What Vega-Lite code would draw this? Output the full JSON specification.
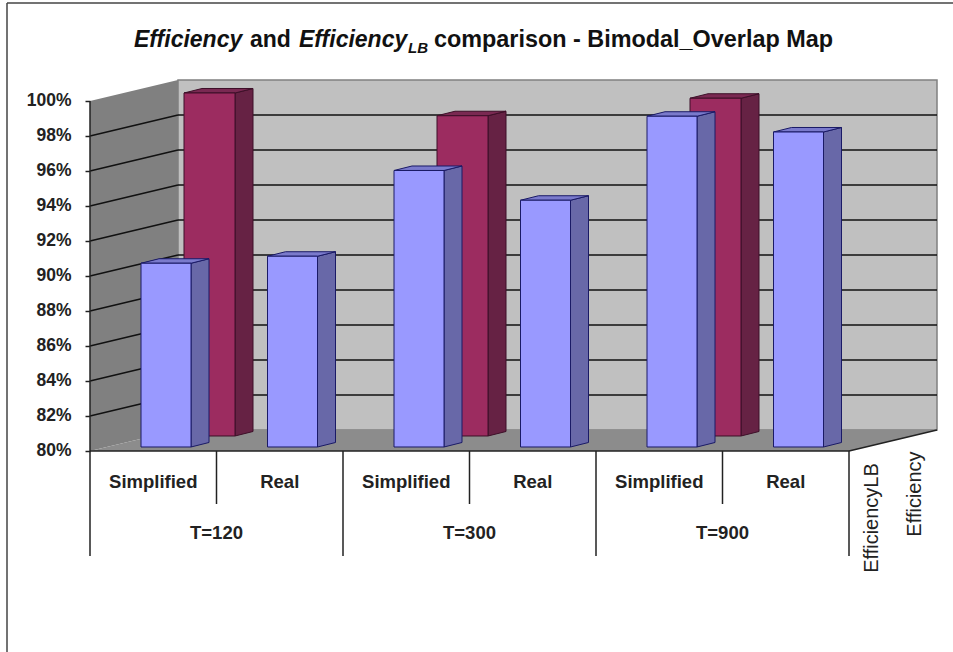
{"$schema":"https://vega.github.io/schema/vega-lite/v6.json","width":953,"height":652,"padding":0,"autosize":{"type":"none"},"background":"white","config":{"view":{"stroke":null},"text":{"font":"Liberation Sans"}},
"datasets":{
"bars":[
{"T":"T=120","type":"Simplified","series":"Efficiency","value":90.5},
{"T":"T=120","type":"Real","series":"Efficiency","value":90.9},
{"T":"T=300","type":"Simplified","series":"Efficiency","value":95.8},
{"T":"T=300","type":"Real","series":"Efficiency","value":94.1},
{"T":"T=900","type":"Simplified","series":"Efficiency","value":98.9},
{"T":"T=900","type":"Real","series":"Efficiency","value":98.0},
{"T":"T=120","type":"Simplified","series":"EfficiencyLB","value":99.6},
{"T":"T=300","type":"Simplified","series":"EfficiencyLB","value":98.3},
{"T":"T=900","type":"Simplified","series":"EfficiencyLB","value":99.3}],
"depth":[{"depth":0},{"depth":1}],
"ticks":[{"v":80},{"v":82},{"v":84},{"v":86},{"v":88},{"v":90},{"v":92},{"v":94},{"v":96},{"v":98},{"v":100}],
"splits":[{"b":0},{"b":1},{"b":2},{"b":3},{"b":4},{"b":5},{"b":6}],
"seriesNames":[{"series":"EfficiencyLB","i":0},{"series":"Efficiency","i":1}],
"one":[{"n":1}]},
"layer":[
{"data":{"name":"one"},"transform":[{"calculate":"178","as":"x"},{"calculate":"937","as":"x2"},{"calculate":"101.2","as":"y"},{"calculate":"81.2","as":"y2"}],"mark":{"type":"rect","fill":"#c0c0c0","stroke":"#808080","strokeWidth":1.5},"encoding":{"x":{"field":"x","type":"quantitative","scale":{"domain":[0,953]},"axis":null},"x2":{"field":"x2"},"y":{"field":"y","type":"quantitative","scale":{"domain":[68.514,105.771]},"axis":{"values":[80,82,84,86,88,90,92,94,96,98,100],"labelExpr":"datum.value+'%'","offset":-90,"domain":false,"grid":false,"title":null,"tickSize":5,"tickColor":"#222222","tickWidth":1.5,"labelFont":"Liberation Sans","labelFontSize":17.5,"labelFontWeight":"bold","labelColor":"#222222","labelPadding":14}},"y2":{"field":"y2"}}},
{"data":{"name":"depth"},"transform":[{"calculate":"90+88*datum.depth","as":"x"},{"calculate":"100+1.2*datum.depth","as":"t"},{"calculate":"80+1.2*datum.depth","as":"b"}],"mark":{"type":"area","fill":"#808080"},"encoding":{"x":{"field":"x","type":"quantitative","scale":{"domain":[0,953]},"axis":null},"y":{"field":"t","type":"quantitative","stack":null,"scale":{"domain":[68.514,105.771]}},"y2":{"field":"b"}}},
{"data":{"name":"depth"},"transform":[{"calculate":"90+88*datum.depth","as":"x"},{"calculate":"849+88*datum.depth","as":"x2"},{"calculate":"80+1.2*datum.depth","as":"y"}],"mark":{"type":"area","orient":"horizontal","fill":"#8c8c8c"},"encoding":{"y":{"field":"y","type":"quantitative","scale":{"domain":[68.514,105.771]}},"x":{"field":"x","type":"quantitative","stack":null,"scale":{"domain":[0,953]},"axis":null},"x2":{"field":"x2"}}},
{"data":{"name":"ticks"},"transform":[{"filter":"datum.v>80&&datum.v<100"},{"calculate":"datum.v+1.2","as":"w"},{"calculate":"178","as":"x"},{"calculate":"937","as":"x2"}],"mark":{"type":"rule","color":"#111111","strokeWidth":1.5},"encoding":{"x":{"field":"x","type":"quantitative","scale":{"domain":[0,953]},"axis":null},"x2":{"field":"x2"},"y":{"field":"w","type":"quantitative","scale":{"domain":[68.514,105.771]}}}},
{"data":{"name":"ticks"},"transform":[{"filter":"datum.v>80&&datum.v<100"},{"calculate":"datum.v+1.2","as":"w"},{"calculate":"90","as":"x"},{"calculate":"178","as":"x2"}],"mark":{"type":"rule","color":"#111111","strokeWidth":1.5},"encoding":{"x":{"field":"x","type":"quantitative","scale":{"domain":[0,953]},"axis":null},"x2":{"field":"x2"},"y":{"field":"v","type":"quantitative","scale":{"domain":[68.514,105.771]}},"y2":{"field":"w"}}},

{"data":{"name":"bars"},"transform":[{"filter":"datum.series==='EfficiencyLB'"},{"calculate":"indexof(['T=120','T=300','T=900'],datum.T)*2+(datum.type==='Real'?1:0)","as":"slot"},{"calculate":"235+126.5*datum.slot","as":"xR"},{"calculate":"80+15/17.5","as":"base"},{"calculate":"datum.value+15/17.5","as":"top"},{"calculate":"[0,1]","as":"k"},{"flatten":["k"]},{"calculate":"datum.xR+18*datum.k","as":"x"},{"calculate":"datum.top+datum.k*4.5/17.5","as":"t"},{"calculate":"datum.base+datum.k*4.5/17.5","as":"b"}],"mark":{"type":"area","fill":"#662244","stroke":"#3d0f28","strokeWidth":1},"encoding":{"detail":{"field":"slot","type":"nominal"},"x":{"field":"x","type":"quantitative","scale":{"domain":[0,953]},"axis":null},"y":{"field":"t","type":"quantitative","stack":null,"scale":{"domain":[68.514,105.771]}},"y2":{"field":"b"}}},
{"data":{"name":"bars"},"transform":[{"filter":"datum.series==='EfficiencyLB'"},{"calculate":"indexof(['T=120','T=300','T=900'],datum.T)*2+(datum.type==='Real'?1:0)","as":"slot"},{"calculate":"184+126.5*datum.slot","as":"xL"},{"calculate":"datum.value+15/17.5","as":"top"},{"calculate":"[0,1]","as":"k"},{"flatten":["k"]},{"calculate":"datum.xL+18*datum.k","as":"x"},{"calculate":"datum.x+51","as":"x2"},{"calculate":"datum.top+datum.k*4.5/17.5","as":"y"}],"mark":{"type":"area","orient":"horizontal","fill":"#7a2952","stroke":"#3d0f28","strokeWidth":1},"encoding":{"detail":{"field":"slot","type":"nominal"},"y":{"field":"y","type":"quantitative","scale":{"domain":[68.514,105.771]}},"x":{"field":"x","type":"quantitative","stack":null,"scale":{"domain":[0,953]},"axis":null},"x2":{"field":"x2"}}},
{"data":{"name":"bars"},"transform":[{"filter":"datum.series==='EfficiencyLB'"},{"calculate":"indexof(['T=120','T=300','T=900'],datum.T)*2+(datum.type==='Real'?1:0)","as":"slot"},{"calculate":"184+126.5*datum.slot","as":"xL"},{"calculate":"datum.xL+51","as":"xR"},{"calculate":"80+15/17.5","as":"base"},{"calculate":"datum.value+15/17.5","as":"top"}],"mark":{"type":"rect","fill":"#9c2c60","stroke":"#3d0f28","strokeWidth":1},"encoding":{"x":{"field":"xL","type":"quantitative","scale":{"domain":[0,953]},"axis":null},"x2":{"field":"xR"},"y":{"field":"top","type":"quantitative","scale":{"domain":[68.514,105.771]}},"y2":{"field":"base"}}},

{"data":{"name":"bars"},"transform":[{"filter":"datum.series==='Efficiency'"},{"calculate":"indexof(['T=120','T=300','T=900'],datum.T)*2+(datum.type==='Real'?1:0)","as":"slot"},{"calculate":"191+126.5*datum.slot","as":"xR"},{"calculate":"80+4/17.5","as":"base"},{"calculate":"datum.value+4/17.5","as":"top"},{"calculate":"[0,1]","as":"k"},{"flatten":["k"]},{"calculate":"datum.xR+18*datum.k","as":"x"},{"calculate":"datum.top+datum.k*4.5/17.5","as":"t"},{"calculate":"datum.base+datum.k*4.5/17.5","as":"b"}],"mark":{"type":"area","fill":"#6868a8","stroke":"#1a1a66","strokeWidth":1},"encoding":{"detail":{"field":"slot","type":"nominal"},"x":{"field":"x","type":"quantitative","scale":{"domain":[0,953]},"axis":null},"y":{"field":"t","type":"quantitative","stack":null,"scale":{"domain":[68.514,105.771]}},"y2":{"field":"b"}}},
{"data":{"name":"bars"},"transform":[{"filter":"datum.series==='Efficiency'"},{"calculate":"indexof(['T=120','T=300','T=900'],datum.T)*2+(datum.type==='Real'?1:0)","as":"slot"},{"calculate":"141+126.5*datum.slot","as":"xL"},{"calculate":"datum.value+4/17.5","as":"top"},{"calculate":"[0,1]","as":"k"},{"flatten":["k"]},{"calculate":"datum.xL+18*datum.k","as":"x"},{"calculate":"datum.x+50","as":"x2"},{"calculate":"datum.top+datum.k*4.5/17.5","as":"y"}],"mark":{"type":"area","orient":"horizontal","fill":"#7a7acc","stroke":"#1a1a66","strokeWidth":1},"encoding":{"detail":{"field":"slot","type":"nominal"},"y":{"field":"y","type":"quantitative","scale":{"domain":[68.514,105.771]}},"x":{"field":"x","type":"quantitative","stack":null,"scale":{"domain":[0,953]},"axis":null},"x2":{"field":"x2"}}},
{"data":{"name":"bars"},"transform":[{"filter":"datum.series==='Efficiency'"},{"calculate":"indexof(['T=120','T=300','T=900'],datum.T)*2+(datum.type==='Real'?1:0)","as":"slot"},{"calculate":"141+126.5*datum.slot","as":"xL"},{"calculate":"datum.xL+50","as":"xR"},{"calculate":"80+4/17.5","as":"base"},{"calculate":"datum.value+4/17.5","as":"top"}],"mark":{"type":"rect","fill":"#9999ff","stroke":"#1a1a66","strokeWidth":1},"encoding":{"x":{"field":"xL","type":"quantitative","scale":{"domain":[0,953]},"axis":null},"x2":{"field":"xR"},"y":{"field":"top","type":"quantitative","scale":{"domain":[68.514,105.771]}},"y2":{"field":"base"}}},

{"data":{"name":"one"},"transform":[{"calculate":"90","as":"x"},{"calculate":"80","as":"y"},{"calculate":"100","as":"y2"}],"mark":{"type":"rule","color":"#222222","strokeWidth":1.5},"encoding":{"x":{"field":"x","type":"quantitative","scale":{"domain":[0,953]},"axis":null},"y":{"field":"y","type":"quantitative","scale":{"domain":[68.514,105.771]}},"y2":{"field":"y2"}}},
{"data":{"name":"one"},"transform":[{"calculate":"90","as":"x"},{"calculate":"849","as":"x2"},{"calculate":"80","as":"y"}],"mark":{"type":"rule","color":"#222222","strokeWidth":1.5},"encoding":{"x":{"field":"x","type":"quantitative","scale":{"domain":[0,953]},"axis":null},"x2":{"field":"x2"},"y":{"field":"y","type":"quantitative","scale":{"domain":[68.514,105.771]}}}},
{"data":{"name":"one"},"transform":[{"calculate":"849","as":"x"},{"calculate":"937","as":"x2"},{"calculate":"80","as":"y"},{"calculate":"81.2","as":"y2"}],"mark":{"type":"rule","color":"#222222","strokeWidth":1.5},"encoding":{"x":{"field":"x","type":"quantitative","scale":{"domain":[0,953]},"axis":null},"x2":{"field":"x2"},"y":{"field":"y","type":"quantitative","scale":{"domain":[68.514,105.771]}},"y2":{"field":"y2"}}},
{"data":{"name":"splits"},"transform":[{"calculate":"90+126.5*datum.b","as":"x"},{"calculate":"80","as":"y"},{"calculate":"datum.b%2===0?74:76.97","as":"end"}],"mark":{"type":"rule","color":"#222222","strokeWidth":1.5},"encoding":{"x":{"field":"x","type":"quantitative","scale":{"domain":[0,953]},"axis":null},"y":{"field":"y","type":"quantitative","scale":{"domain":[68.514,105.771]}},"y2":{"field":"end"}}},

{"data":{"name":"bars"},"transform":[{"filter":"datum.series==='Efficiency'"},{"calculate":"indexof(['T=120','T=300','T=900'],datum.T)*2+(datum.type==='Real'?1:0)","as":"slot"},{"calculate":"90+126.5*(datum.slot+0.5)","as":"x"},{"calculate":"78.25","as":"y"}],"mark":{"type":"text","fontSize":18.5,"fontWeight":"bold","color":"#222222","align":"center","baseline":"middle"},"encoding":{"x":{"field":"x","type":"quantitative","scale":{"domain":[0,953]},"axis":null},"y":{"field":"y","type":"quantitative","scale":{"domain":[68.514,105.771]}},"text":{"field":"type","type":"nominal"}}},
{"data":{"name":"bars"},"transform":[{"filter":"datum.series==='Efficiency'&&datum.type==='Real'"},{"calculate":"indexof(['T=120','T=300','T=900'],datum.T)","as":"g"},{"calculate":"90+253*(datum.g+0.5)","as":"x"},{"calculate":"75.33","as":"y"}],"mark":{"type":"text","fontSize":18.5,"fontWeight":"bold","color":"#222222","align":"center","baseline":"middle"},"encoding":{"x":{"field":"x","type":"quantitative","scale":{"domain":[0,953]},"axis":null},"y":{"field":"y","type":"quantitative","scale":{"domain":[68.514,105.771]}},"text":{"field":"T","type":"nominal"}}},
{"data":{"name":"seriesNames"},"transform":[{"calculate":"872+43*datum.i","as":"x"},{"calculate":"datum.i===0?76.17:77.54","as":"y"}],"mark":{"type":"text","fontSize":20,"color":"#222222","align":"center","baseline":"middle","angle":270},"encoding":{"x":{"field":"x","type":"quantitative","scale":{"domain":[0,953]},"axis":null},"y":{"field":"y","type":"quantitative","scale":{"domain":[68.514,105.771]}},"text":{"field":"series","type":"nominal"}}},

{"data":{"name":"one"},"transform":[{"calculate":"134","as":"x"},{"calculate":"103.1","as":"y"}],"mark":{"type":"text","text":"Efficiency","fontSize":23,"fontWeight":"bold","fontStyle":"italic","color":"#111111","align":"left","baseline":"alphabetic"},"encoding":{"x":{"field":"x","type":"quantitative","scale":{"domain":[0,953]},"axis":null},"y":{"field":"y","type":"quantitative","scale":{"domain":[68.514,105.771]}}}},
{"data":{"name":"one"},"transform":[{"calculate":"250","as":"x"},{"calculate":"103.1","as":"y"}],"mark":{"type":"text","text":"and","fontSize":23,"fontWeight":"bold","color":"#111111","align":"left","baseline":"alphabetic"},"encoding":{"x":{"field":"x","type":"quantitative","scale":{"domain":[0,953]},"axis":null},"y":{"field":"y","type":"quantitative","scale":{"domain":[68.514,105.771]}}}},
{"data":{"name":"one"},"transform":[{"calculate":"299","as":"x"},{"calculate":"103.1","as":"y"}],"mark":{"type":"text","text":"Efficiency","fontSize":23,"fontWeight":"bold","fontStyle":"italic","color":"#111111","align":"left","baseline":"alphabetic"},"encoding":{"x":{"field":"x","type":"quantitative","scale":{"domain":[0,953]},"axis":null},"y":{"field":"y","type":"quantitative","scale":{"domain":[68.514,105.771]}}}},
{"data":{"name":"one"},"transform":[{"calculate":"408","as":"x"},{"calculate":"102.75","as":"y"}],"mark":{"type":"text","text":"LB","fontSize":15,"fontWeight":"bold","fontStyle":"italic","color":"#111111","align":"left","baseline":"alphabetic"},"encoding":{"x":{"field":"x","type":"quantitative","scale":{"domain":[0,953]},"axis":null},"y":{"field":"y","type":"quantitative","scale":{"domain":[68.514,105.771]}}}},
{"data":{"name":"one"},"transform":[{"calculate":"833","as":"x"},{"calculate":"103.1","as":"y"}],"mark":{"type":"text","text":"comparison - Bimodal_Overlap Map","fontSize":23.4,"fontWeight":"bold","color":"#111111","align":"right","baseline":"alphabetic"},"encoding":{"x":{"field":"x","type":"quantitative","scale":{"domain":[0,953]},"axis":null},"y":{"field":"y","type":"quantitative","scale":{"domain":[68.514,105.771]}}}},

{"data":{"name":"one"},"transform":[{"calculate":"7","as":"x"},{"calculate":"953","as":"x2"},{"calculate":"105.6","as":"y"}],"mark":{"type":"rule","color":"#444444","strokeWidth":1.5},"encoding":{"x":{"field":"x","type":"quantitative","scale":{"domain":[0,953]},"axis":null},"x2":{"field":"x2"},"y":{"field":"y","type":"quantitative","scale":{"domain":[68.514,105.771]}}}},
{"data":{"name":"one"},"transform":[{"calculate":"7","as":"x"},{"calculate":"105.6","as":"y"},{"calculate":"68.514","as":"y2"}],"mark":{"type":"rule","color":"#444444","strokeWidth":1.5},"encoding":{"x":{"field":"x","type":"quantitative","scale":{"domain":[0,953]},"axis":null},"y":{"field":"y","type":"quantitative","scale":{"domain":[68.514,105.771]}},"y2":{"field":"y2"}}}
]}
